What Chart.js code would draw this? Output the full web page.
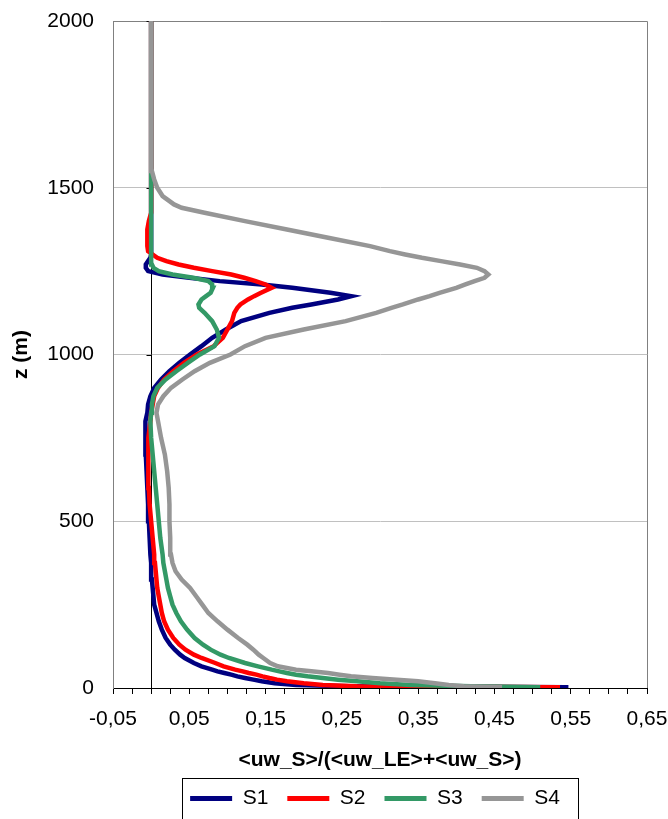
<!DOCTYPE html>
<html>
<head>
<meta charset="utf-8">
<script src="https://cdn.jsdelivr.net/npm/chart.js@4/dist/chart.umd.min.js"></script>
<style>
  html, body { margin: 0; padding: 0; background: #ffffff; }
  #wrap { width: 668px; height: 819px; }
</style>
</head>
<body>
<div id="wrap"><canvas id="c" width="668" height="819"></canvas></div>
<script>
// Heights (m) shared by all four profiles
const heights = [
  2, 5, 9, 14, 20,
  25, 30, 35, 40, 45,
  50, 55, 65, 75, 90,
  100, 115, 130, 150, 175,
  200, 225, 250, 275, 300,
  325, 350, 375, 400, 450,
  500, 550, 600, 650, 700,
  750, 800, 825, 850, 875,
  900, 925, 950, 975, 1000,
  1025, 1050, 1075, 1100, 1125,
  1140, 1150, 1165, 1175, 1185,
  1200, 1210, 1220, 1230, 1240,
  1250, 1260, 1270, 1280, 1290,
  1300, 1310, 1325, 1350, 1375,
  1400, 1425, 1440, 1450, 1475,
  1500, 1525, 1550, 1600, 1700,
  1800, 1900, 2000
];

// <uw_S>/(<uw_LE>+<uw_S>) for each run
const s1 = [
  0.547, 0.26, 0.19, 0.162, 0.145,
  0.134, 0.123, 0.113, 0.105, 0.096,
  0.087, 0.08, 0.066, 0.056, 0.044,
  0.038, 0.031, 0.025, 0.019, 0.014,
  0.01, 0.007, 0.004, 0.003, 0.002,
  0.001, 0.0, 0.0, -0.001, -0.002,
  -0.003, -0.004, -0.005, -0.006, -0.007,
  -0.008, -0.007, -0.005, -0.004, -0.001,
  0.004, 0.013, 0.024, 0.037, 0.051,
  0.066, 0.08, 0.098, 0.118, 0.155,
  0.185, 0.21, 0.245, 0.262, 0.235,
  0.185, 0.145, 0.09, 0.05, 0.015,
  -0.004, -0.007, -0.007, -0.004, -0.001,
  0, 0, 0, 0, 0,
  0, 0, 0, 0, 0,
  0, 0, 0, 0, 0,
  0, 0, 0
];
const s2 = [
  0.536, 0.27, 0.225, 0.2, 0.178,
  0.165, 0.155, 0.146, 0.138, 0.128,
  0.12, 0.11, 0.095, 0.084, 0.066,
  0.056, 0.045, 0.037, 0.029, 0.022,
  0.017, 0.014, 0.012, 0.01, 0.008,
  0.007, 0.006, 0.005, 0.004, 0.002,
  0.0, -0.002, -0.003, -0.004, -0.004,
  -0.003, -0.001, 0.0, 0.002, 0.004,
  0.009, 0.017, 0.029, 0.043, 0.06,
  0.082, 0.094, 0.1, 0.106, 0.109,
  0.113, 0.117, 0.127, 0.135, 0.144,
  0.158, 0.15, 0.137, 0.122, 0.105,
  0.08, 0.056, 0.036, 0.02, 0.008,
  0.002, -0.004, -0.005, -0.005, -0.005,
  -0.003, 0, 0, 0, 0,
  0, 0, 0, 0, 0,
  0, 0, 0
];
const s3 = [
  0.51, 0.42, 0.34, 0.3, 0.27,
  0.245, 0.225, 0.205, 0.19, 0.178,
  0.168, 0.158, 0.14, 0.123, 0.102,
  0.091, 0.078, 0.068, 0.057, 0.047,
  0.039, 0.033, 0.028, 0.025, 0.022,
  0.02, 0.018, 0.016, 0.015, 0.012,
  0.01, 0.008, 0.006, 0.004, 0.002,
  0.0, -0.001, 0.0, 0.001, 0.003,
  0.008, 0.019, 0.033, 0.048, 0.064,
  0.083, 0.089, 0.086, 0.08, 0.07,
  0.063, 0.062, 0.066, 0.072, 0.078,
  0.081, 0.08, 0.075, 0.055, 0.028,
  0.01, 0.003, 0.001, 0, 0,
  0, 0, 0, 0, 0,
  0, 0, 0, 0, 0,
  0, 0, 0, 0, 0,
  0, 0, 0
];
const s4 = [
  0.46, 0.41, 0.39, 0.372, 0.35,
  0.322, 0.29, 0.262, 0.247, 0.232,
  0.21, 0.19, 0.166, 0.156, 0.147,
  0.141, 0.134, 0.126, 0.114, 0.1,
  0.087, 0.075, 0.067, 0.059, 0.051,
  0.04, 0.032, 0.028, 0.026, 0.025,
  0.024, 0.024, 0.023, 0.021, 0.018,
  0.013, 0.009, 0.007, 0.009, 0.016,
  0.026, 0.041, 0.057, 0.077, 0.104,
  0.123, 0.15, 0.2, 0.255, 0.295,
  0.315, 0.33, 0.35, 0.365, 0.378,
  0.4, 0.412, 0.424, 0.437, 0.442,
  0.437, 0.427, 0.405, 0.38, 0.355,
  0.333, 0.313, 0.287, 0.232, 0.178,
  0.123, 0.07, 0.04, 0.03, 0.015,
  0.008, 0.004, 0.001, 0, 0,
  0, 0, 0
];

const seriesNames = ['S1', 'S2', 'S3', 'S4'];
const seriesColors = ['#000080', '#ff0000', '#339966', '#969696'];
const seriesValues = [s1, s2, s3, s4];

// x-axis: minor ticks every 0.025, labels every 0.1 starting at -0.05
const xMin = -0.05, xMax = 0.65, xStep = 0.025;
const yMin = 0, yMax = 2000, yStep = 500;

Chart.defaults.font.family = "'Liberation Sans', Arial, Helvetica, sans-serif";
Chart.defaults.color = '#000000';

const datasets = seriesValues.map((vals, i) => ({
  label: seriesNames[i],
  data: heights.map((z, k) => ({ x: vals[k], y: z })),
  borderColor: seriesColors[i],
  backgroundColor: seriesColors[i],
  borderWidth: 4.5,
  pointRadius: 0,
  tension: 0,
  fill: false,
  order: seriesValues.length - 1 - i
}));

// Frame (top/right), zero line with its ticks, legend centring and legend box
const framePlugin = {
  id: 'frame',
  afterLayout(chart) {
    const lg = chart.legend, ca = chart.chartArea;
    if (!lg) return;
    const shift = (ca.left + ca.right) / 2 - 5 - (lg.left + lg.right) / 2;
    lg.left += shift;
    lg.right += shift;
  },
  beforeDatasetsDraw(chart) {
    const { ctx, chartArea: ca, scales } = chart;
    const x0 = Math.round(scales.x.getPixelForValue(0)) + 0.5;
    ctx.save();
    ctx.strokeStyle = '#808080';
    ctx.lineWidth = 1;
    ctx.beginPath();
    ctx.moveTo(ca.left, Math.round(ca.top) + 0.5);
    ctx.lineTo(Math.round(ca.right) + 0.5, Math.round(ca.top) + 0.5);
    ctx.lineTo(Math.round(ca.right) + 0.5, ca.bottom);
    ctx.stroke();
    ctx.strokeStyle = '#000000';
    ctx.beginPath();
    ctx.moveTo(x0, scales.y.getPixelForValue(yMin));
    ctx.lineTo(x0, scales.y.getPixelForValue(yMax));
    for (let v = yMin; v <= yMax; v += yStep) {
      const py = Math.round(scales.y.getPixelForValue(v)) + 0.5;
      ctx.moveTo(x0 - 5, py);
      ctx.lineTo(x0, py);
    }
    ctx.stroke();
    ctx.restore();
  },
  afterDraw(chart) {
    const lg = chart.legend;
    if (!lg || !lg.legendHitBoxes || !lg.legendHitBoxes.length) return;
    const hb = lg.legendHitBoxes;
    const first = hb[0], last = hb[hb.length - 1];
    const ctx = chart.ctx;
    ctx.save();
    ctx.strokeStyle = '#000000';
    ctx.lineWidth = 1;
    const l = Math.round(first.left - 8) + 0.5;
    const r = Math.round(last.left + last.width + 18) + 0.5;
    const t = Math.round(first.top - 10) + 0.5;
    ctx.strokeRect(l, t, r - l, 80);
    ctx.restore();
  }
};

new Chart(document.getElementById('c'), {
  type: 'line',
  data: { datasets },
  options: {
    responsive: false,
    animation: false,
    events: [],
    layout: { padding: { left: 0, right: 21, top: 21, bottom: 0 } },
    plugins: {
      tooltip: { enabled: false },
      legend: {
        position: 'bottom',
        labels: {
          boxWidth: 42,
          boxHeight: 5,
          padding: 19,
          font: { size: 21 },
          color: '#000000',
          generateLabels: (chart) => chart.data.datasets.map((ds, i) => ({
            text: ds.label,
            fillStyle: ds.borderColor,
            strokeStyle: ds.borderColor,
            lineWidth: 0,
            hidden: false,
            datasetIndex: i,
            fontColor: '#000000'
          }))
        }
      }
    },
    scales: {
      x: {
        type: 'linear',
        min: xMin,
        max: xMax,
        afterFit: (s) => { s.height = 81; s.paddingLeft = 0; s.paddingRight = 0; },
        border: { color: '#000000', width: 1 },
        grid: { drawOnChartArea: false, drawTicks: true, tickLength: 6, color: '#000000' },
        ticks: {
          stepSize: xStep,
          maxTicksLimit: 100,
          autoSkip: false,
          maxRotation: 0,
          padding: 13,
          font: { size: 21 },
          color: '#000000',
          callback: (v) => {
            const k = Math.round((v - xMin) * 1000);
            return k % 100 === 0 ? Number(v).toFixed(2).replace('.', ',') : '';
          }
        },
        title: {
          display: true,
          text: '<uw_S>/(<uw_LE>+<uw_S>)',
          font: { size: 21, weight: 'bold', lineHeight: 0.8 },
          color: '#000000',
          padding: { top: 0, bottom: 0 }
        }
      },
      y: {
        type: 'linear',
        min: yMin,
        max: yMax,
        afterFit: (s) => { s.width = 113; s.paddingTop = 0; s.paddingBottom = 0; },
        border: { color: '#808080', width: 1 },
        grid: { color: '#c0c0c0', lineWidth: 1, drawTicks: false },
        ticks: {
          stepSize: yStep,
          padding: 19,
          font: { size: 21 },
          color: '#000000',
          callback: (v) => String(v)
        },
        title: {
          display: true,
          text: 'z (m)',
          font: { size: 21, weight: 'bold' },
          color: '#000000',
          padding: { top: 9, bottom: 0 }
        }
      }
    }
  },
  plugins: [framePlugin]
});
</script>
</body>
</html>
